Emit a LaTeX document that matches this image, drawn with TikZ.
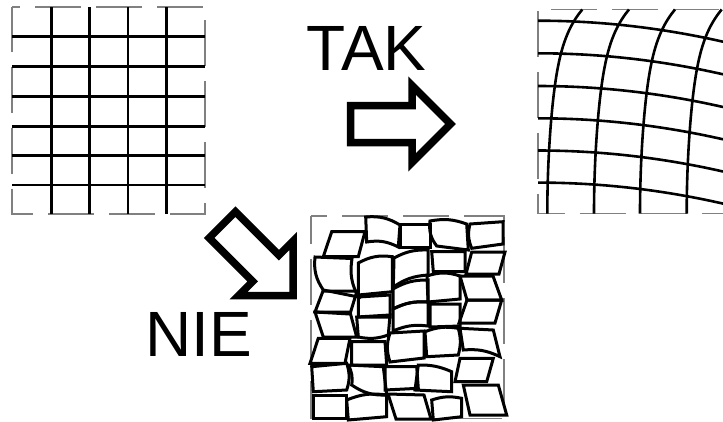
\documentclass[tikz,border=0pt]{standalone}
\usepackage{fontspec}
\setmainfont{Liberation Sans}
\begin{document}
\begin{tikzpicture}[x=1pt,y=-1pt,
  frame/.style={draw=gray, line width=1.1pt, dash pattern=on 46pt off 15pt},
  gridline/.style={line width=2.6pt},
  cell/.style={line width=3pt, line join=miter},
  blockarrow/.style={line width=7.5pt, line join=miter, miter limit=10},
  label/.style={font=\fontsize{64}{64}\selectfont, inner sep=0pt, anchor=base}]
\useasboundingbox (0,0) rectangle (723,421);

% ---------- left: regular grid ----------
\draw[frame, dash phase=38pt] (12,7) -- (205,7) -- (205,214) -- (12,214) -- cycle;
\foreach \vx in {51.5,89.5,128,166.5}
  \draw[gridline] (\vx,7) -- (\vx,214);
\foreach \hy in {36.7,66.7,96.7,126.7,155.7,185}
  \draw[gridline] (12,\hy) -- (205,\hy);

% ---------- right: smoothly warped grid ----------
\begin{scope}
\clip (0,0) rectangle (723,421);
\draw[frame, dash phase=20pt] (760,9.3) -- (538,9.3) -- (538,213.5) -- (760,213.5);
\foreach \hy in {20.7,53.3,86,118.3,150.5,182.6}
  \draw[gridline] (538,\hy) .. controls (599.7,\hy) and (661.3,\hy+7) .. (723,\hy+21);
\foreach \vx in {547.3,594,640,686.7}
  \draw[gridline] plot[domain=0:204, samples=50, smooth]
    ({\vx+18.3*(\x/204)^2+16.7*(\x/204)^8},{213.5-\x});
\end{scope}

% ---------- middle: scrambled grid ----------
\draw[frame, dash phase=30pt] (311,216) -- (504,216) -- (504,418.3) -- (311,418.3) -- cycle;
% row 1
\draw[cell] (331.7,231.7) -- (365,231.7) -- (358.3,256.7) -- (323.3,256.7) -- cycle;
\draw[cell] (365.7,217) to[bend left=18] (400,225) -- (398.3,247) to[bend right=18] (366.7,242) -- cycle;
\draw[cell] (400,224.3) -- (430.7,224.3) -- (430.7,247.7) -- (400,247.7) -- cycle;
\draw[cell] (436.7,246) to[bend left=22] (430,221) to[bend left=15] (466.7,224) -- (468.3,250) -- cycle;
\draw[cell] (471.7,248.3) to[bend left=18] (470,224) -- (503,221.7) -- (503,244) -- cycle;
% row 2
\draw[cell] (323.3,290) to[bend left=20] (315,257) -- (352,258.5) to[bend right=18] (358.3,297) -- cycle;
\draw[cell] (358.3,263) to[bend left=18] (392.3,256.7) -- (392.3,291.7) -- (358.3,295) -- cycle;
\draw[cell] (394,258) to[bend left=15] (428,250) -- (428,275) to[bend right=15] (393.3,287) -- cycle;
\draw[cell] (431.7,251.7) -- (465,251.7) -- (465,271.7) -- (433.3,271.7) -- cycle;
\draw[cell] (471.7,252) -- (505,252) -- (499,274) -- (466,274) -- cycle;
% row 3
\draw[cell] (323,291) -- (357,291) -- (350,314) -- (315,312) -- cycle;
\draw[cell] (358.3,297) -- (390,295) -- (390,317) -- (358.3,317) -- cycle;
\draw[cell] (393,289) to[bend left=15] (428,280) -- (428,302) to[bend right=15] (393,309) -- cycle;
\draw[cell] (427,276) to[bend left=18] (460,276) -- (460,299) -- (428,302) -- cycle;
\draw[cell] (460,276) -- (493,276) -- (501.7,300) -- (467,300) -- cycle;
% row 4
\draw[cell] (315,312) -- (350,312) -- (356.7,337) -- (323.3,337) -- cycle;
\draw[cell] (356.7,317) -- (390,315) -- (388.3,335) to[bend left=15] (358.3,337) -- cycle;
\draw[cell] (393,309) to[bend left=15] (428,302) -- (428,326) to[bend right=15] (393,331) -- cycle;
\draw[cell] (430,304) -- (460,304) -- (460,326) -- (430,327) -- cycle;
\draw[cell] (467,300) -- (501.7,300) -- (495,323) -- (459,323) -- cycle;
% row 5
\draw[cell] (318.3,338.3) -- (350,338.3) -- (345,363.3) -- (310,363.3) -- cycle;
\draw[cell] (351.7,341.7) -- (385,341.7) -- (386.7,365) -- (351.7,365) -- cycle;
\draw[cell] (390,362) to[bend left=18] (390,333) -- (424,331) -- (424,358) -- cycle;
\draw[cell] (425,331.7) to[bend left=15] (458.3,328.3) to[bend left=15] (458.3,355) -- (426.7,356.7) -- cycle;
\draw[cell] (460,328.3) -- (493.3,330) -- (500,356.7) to[bend right=15] (463.3,350) -- cycle;
% row 6
\draw[cell] (311.7,366.7) -- (346.7,363.3) to[bend left=18] (346.7,390) -- (313.3,391.7) -- cycle;
\draw[cell] (383.3,366.7) -- (386.7,395) to[bend left=18] (351.7,385) to[bend right=18] (348.3,365) -- cycle;
\draw[cell] (385,366.7) -- (416.7,366.7) -- (418.3,388.3) -- (385,390) -- cycle;
\draw[cell] (418.3,365) to[bend left=12] (451.7,371.7) -- (451.7,391.7) -- (415,390) -- cycle;
\draw[cell] (460,358.3) -- (493.3,358.3) -- (486.7,381.7) -- (455,381.7) -- cycle;
% row 7
\draw[cell] (313.3,395) -- (346.7,395) -- (346.7,418.3) -- (313.3,418.3) -- cycle;
\draw[cell] (346.7,400) to[bend left=15] (386.7,395) -- (386.7,416.7) -- (348.3,420) -- cycle;
\draw[cell] (388,394) -- (424,395) -- (431,419) -- (396,419) -- cycle;
\draw[cell] (431.7,400) to[bend left=15] (461.7,398.3) -- (461.7,416.7) -- (433.3,420) -- cycle;
\draw[cell] (463.3,385) -- (498.3,385) -- (506.7,415) -- (470,415) -- cycle;

% ---------- block arrows ----------
\draw[blockarrow] (350.5,105.5) -- (412,105.5) -- (412,85.5) -- (450.5,124)
  -- (412,162.5) -- (412,142.5) -- (350.5,142.5) -- cycle;
\draw[blockarrow] (235.4,211.7) -- (278.9,255.2) -- (293,241.1) -- (293,295.5)
  -- (238.6,295.5) -- (252.7,281.4) -- (209.2,237.9) -- cycle;

% ---------- labels ----------
\node[label] (tak) at (366.5,70) {TAK};
\node[label] (nie) at (199,356.7) {NIE};
\end{tikzpicture}
\end{document}
